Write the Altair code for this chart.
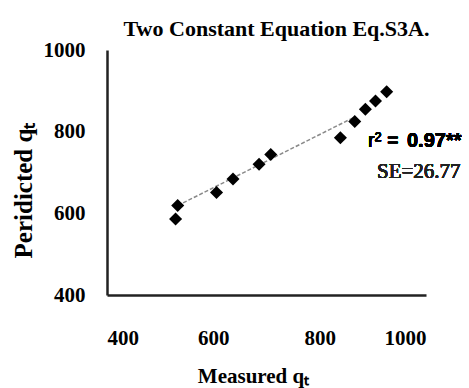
import altair as alt
import pandas as pd

measured = [533, 529, 606, 637, 686, 708, 839, 866, 886, 905, 926]
predicted = [619, 586, 651, 684, 720, 744, 785, 825, 855, 875, 898]

trend_measured = [533, 866]
trend_predicted = [619, 836]

df = pd.DataFrame({"measured": measured, "predicted": predicted})
tdf = pd.DataFrame({"measured": trend_measured, "predicted": trend_predicted})

SERIF = "Liberation Serif"
SANS = "Liberation Sans"

xs = alt.Scale(domain=[400, 1000], nice=False, zero=False)
ys = alt.Scale(domain=[400, 1000], nice=False, zero=False)

trend = alt.Chart(tdf).mark_line(
    color="#8a8a8a", strokeDash=[4, 2], strokeWidth=1.5
).encode(
    x=alt.X("measured:Q", scale=xs),
    y=alt.Y("predicted:Q", scale=ys),
)

points = alt.Chart(df).mark_point(
    shape="diamond", filled=True, color="#000000", size=170, opacity=1
).encode(
    x=alt.X(
        "measured:Q",
        scale=xs,
        axis=alt.Axis(
            values=[400, 600, 800, 1000],
            format="d",
            title="Measured qₜ",
            grid=False,
            ticks=False,
            labelPadding=32,
            titlePadding=17,
            titleFontSize=21,
            titleX=146,
        ),
    ),
    y=alt.Y(
        "predicted:Q",
        scale=ys,
        axis=alt.Axis(
            values=[400, 600, 800, 1000],
            format="d",
            title="Peridicted qₜ",
            grid=False,
            ticks=False,
            labelPadding=22,
            titlePadding=7,
            titleFontSize=25,
            titleY=140,
        ),
    ),
)

r2a = alt.Chart(df).mark_text(
    text="r² =", font=SANS, fontSize=20, align="left", baseline="alphabetic", color="#000"
).encode(x=alt.value(261), y=alt.value(97))
r2b = alt.Chart(df).mark_text(
    text="0.97**", font=SANS, fontSize=20, fontWeight="bold", align="left",
    baseline="alphabetic", color="#000"
).encode(x=alt.value(300), y=alt.value(97))
se = alt.Chart(df).mark_text(
    text="SE=26.77", font=SERIF, fontSize=21, align="left", baseline="alphabetic", color="#222"
).encode(x=alt.value(270), y=alt.value(128))

chart = (
    alt.layer(trend, points, r2a, r2b, se)
    .properties(
        width=319,
        height=245,
        autosize=alt.AutoSizeParams(type="none"),
        padding={"left": 107, "top": 50, "right": 43, "bottom": 93},
        title=alt.TitleParams(
            "Two Constant Equation Eq.S3A.",
            font=SERIF,
            fontSize=22,
            fontWeight="bold",
            anchor="middle",
            dx=10,
            offset=0,
            dy=2,
            color="#000",
        ),
    )
    .configure_view(stroke=None)
    .configure_axis(
        domainColor="#222",
        domainWidth=2.5,
        labelFont=SERIF,
        labelFontSize=21,
        labelFontWeight="bold",
        labelColor="#000",
        titleFont=SERIF,
        titleFontWeight="bold",
        titleColor="#000",
    )
)

chart.save("out.html", embed_options={"renderer": "svg", "actions": False})
